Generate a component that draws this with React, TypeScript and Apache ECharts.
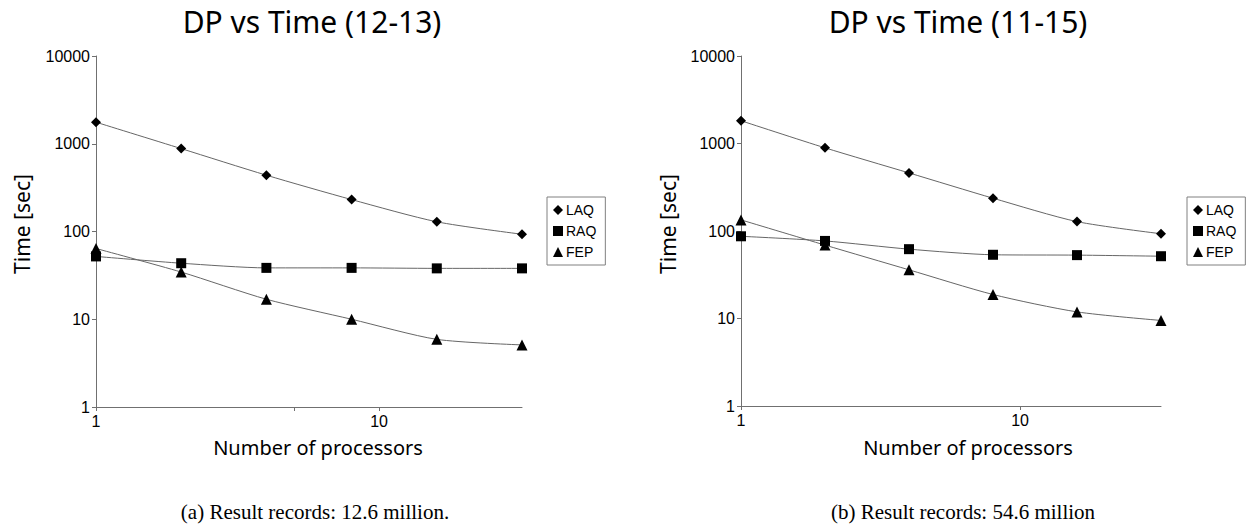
import React, { useEffect, useRef } from "react";
import * as echarts from "echarts";

// ---- data ----
const processors = [1, 2, 4, 8, 16, 32];
const seriesNames = ["LAQ", "RAQ", "FEP"];
const laqA = [1760, 880, 438, 231, 129, 93];
const raqA = [52, 43.5, 38.5, 38.5, 38, 38];
const fepA = [64, 34.5, 16.9, 10, 5.9, 5.1];
const laqB = [1820, 892, 461, 237, 128, 93];
const raqB = [87, 77, 62, 53.5, 53, 51.5];
const fepB = [134, 69, 36, 18.8, 11.9, 9.5];
const titles = ["DP vs Time (12-13)", "DP vs Time (11-15)"];
const captions = ["(a) Result records: 12.6 million.", "(b) Result records: 54.6 million"];
const xAxisName = "Number of processors";
const yAxisName = "Time [sec]";
const xLabelValues = [1, 10];
const xTickValuesA = [1, 5, 10];
const xTickValuesB = [1, 10];

const symbols = ["diamond", "rect", "triangle"];
const symbolSizes = [10, 10, 11];

export default function App() {
  const ref = useRef<HTMLDivElement>(null);
  useEffect(() => {
    if (!ref.current) return;
    const chart = echarts.init(ref.current, null, { renderer: "svg" });

    const panels = [
      {
        grid: { left: 96, top: 56, width: 426, height: 351 },
        titleX: 312,
        xNameX: 318,
        yNameX: 22,
        legendLeft: 547,
        captionX: 315,
        ticks: xTickValuesA,
        data: [laqA, raqA, fepA],
      },
      {
        grid: { left: 741, top: 56, width: 420, height: 350 },
        titleX: 958,
        xNameX: 968,
        yNameX: 668,
        legendLeft: 1187,
        captionX: 963,
        ticks: xTickValuesB,
        data: [laqB, raqB, fepB],
      },
    ];

    const axisLine = { show: true, lineStyle: { color: "#707070", width: 1 } };
    const labelFont = { fontFamily: "Liberation Sans", fontSize: 16, color: "#000" };
    const plain = (v: number) => String(Math.round(v));
    const sans = "Noto Sans";

    const series: any[] = [];
    panels.forEach((p, gi) => {
      p.data.forEach((vals, si) => {
        series.push({
          type: "line",
          name: seriesNames[si],
          xAxisIndex: gi,
          yAxisIndex: gi,
          data: processors.map((x, i) => [x, vals[i]]),
          smooth: 0.25,
          symbol: symbols[si],
          symbolSize: symbolSizes[si],
          showSymbol: true,
          lineStyle: { color: "#666", width: 1 },
          itemStyle: { color: "#000" },
          z: 3 - si,
        });
      });
    });

    const graphic: any[] = [];
    panels.forEach((p, gi) => {
      graphic.push({
        type: "text",
        x: p.titleX,
        y: 21,
        style: {
          text: titles[gi],
          fontFamily: sans,
          fontSize: 30,
          fill: "#000",
          align: "center",
          verticalAlign: "middle",
        },
      });
      graphic.push({
        type: "text",
        x: p.xNameX,
        y: 447,
        style: {
          text: xAxisName,
          fontFamily: sans,
          fontSize: 20,
          fill: "#000",
          align: "center",
          verticalAlign: "middle",
        },
      });
      graphic.push({
        type: "text",
        x: p.yNameX,
        y: 224,
        rotation: Math.PI / 2,
        style: {
          text: yAxisName,
          fontFamily: sans,
          fontSize: 21,
          fill: "#000",
          align: "center",
          verticalAlign: "middle",
        },
      });
      graphic.push({
        type: "text",
        x: p.captionX,
        y: 512,
        style: {
          text: captions[gi],
          fontFamily: "Liberation Serif",
          fontSize: 21,
          fill: "#000",
          align: "center",
          verticalAlign: "middle",
        },
      });
    });

    chart.setOption({
      animation: false,
      backgroundColor: "#fff",
      grid: panels.map((p) => ({ ...p.grid, containLabel: false })),
      xAxis: panels.map((p, gi) => ({
        type: "log",
        logBase: 10,
        gridIndex: gi,
        min: 1,
        max: 32,
        axisLine,
        splitLine: { show: false },
        axisTick: { show: true, length: 4, customValues: p.ticks, lineStyle: { color: "#707070" } },
        axisLabel: { ...labelFont, margin: 6, customValues: xLabelValues, formatter: plain },
      })),
      yAxis: panels.map((p, gi) => ({
        type: "log",
        logBase: 10,
        gridIndex: gi,
        min: 1,
        max: 10000,
        axisLine,
        splitLine: { show: false },
        axisTick: { show: true, length: 4, lineStyle: { color: "#707070" } },
        axisLabel: { ...labelFont, margin: 6, formatter: plain },
      })),
      legend: panels.map((p) => ({
        orient: "vertical",
        left: p.legendLeft,
        top: 197,
        backgroundColor: "#fff",
        borderColor: "#808080",
        borderWidth: 1,
        borderRadius: 0,
        padding: [6, 9, 6, 6],
        itemGap: 7,
        itemWidth: 10,
        itemHeight: 10,
        selectedMode: false,
        textStyle: { fontFamily: "Liberation Sans", fontSize: 14, color: "#000", padding: [0, 0, 0, -2] },
        data: seriesNames.map((n, i) => ({ name: n, icon: symbols[i], itemStyle: { color: "#000" } })),
      })),
      series,
      graphic,
    });

    return () => chart.dispose();
  }, []);

  return (
    <div
      ref={ref}
      style={{ position: "absolute", left: 0, top: 0, width: 1252, height: 531, background: "#fff" }}
    />
  );
}
